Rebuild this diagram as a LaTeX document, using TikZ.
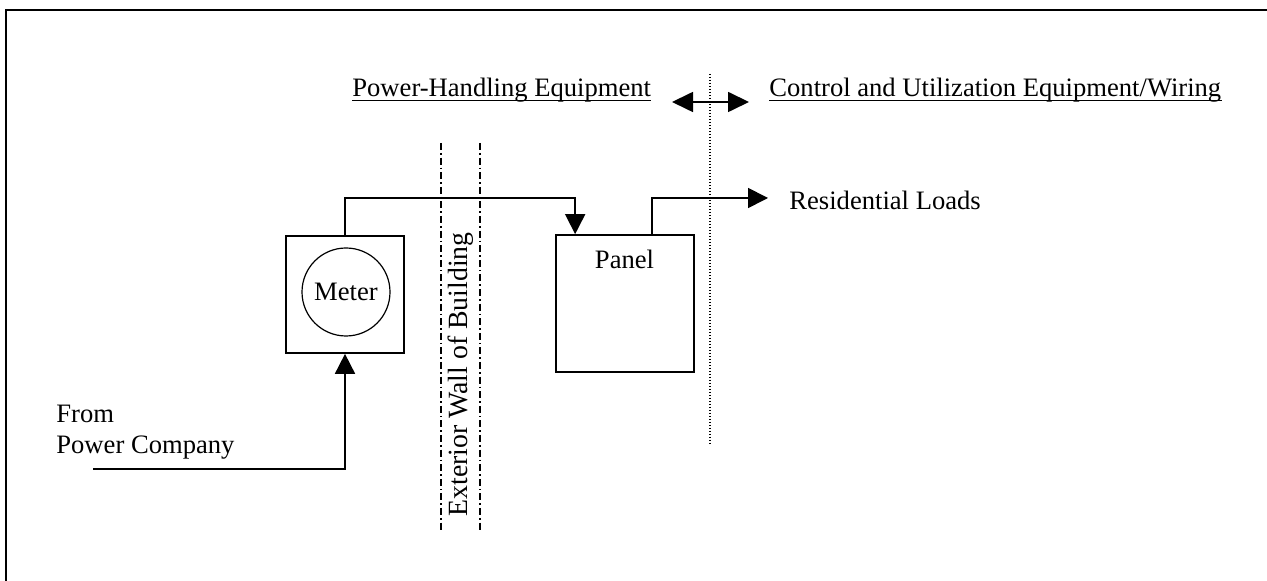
\documentclass[tikz,border=0pt]{standalone}
\usepackage{fontspec}
\setmainfont{Liberation Serif}
\usetikzlibrary{arrows.meta}
\begin{document}
\begin{tikzpicture}[x=0.5pt,y=-0.5pt,
  every node/.style={font=\fontsize{13.3pt}{16pt}\selectfont},
  wire/.style={line width=0.85pt},
  arr/.style={wire,-{Triangle[length=10pt,width=10pt]}},
  dblarr/.style={wire,{Triangle[length=10.5pt,width=10pt]}-{Triangle[length=10.5pt,width=10pt]}},
  box/.style={draw,line width=0.85pt,inner sep=0pt},
  txt/.style={inner sep=0pt},
  uline/.style={line width=0.6pt},
  wall/.style={line width=0.7pt,dash pattern=on 3.5pt off 1.5pt on 0.8pt off 1.5pt},
  divider/.style={line width=0.7pt,dash pattern=on 0.6pt off 0.9pt},
  border/.style={line width=1.3pt}]
\useasboundingbox (0,0) rectangle (1267,581);
\draw[border] (6,582) -- (6,10) -- (1268,10);

% headings
\node[txt,anchor=base west] (phe) at (352,97) {Power-Handling Equipment};
\node[txt,anchor=base west] (cue) at (769,97) {Control and Utilization Equipment/Wiring};
\draw[uline] ([yshift=-1.6pt]phe.base west) -- ([yshift=-1.6pt]phe.base east);
\draw[uline] ([yshift=-1.6pt]cue.base west) -- ([yshift=-1.6pt]cue.base east);

% boundary between the two groups
\coordinate (dl) at (672,102);
\coordinate (dr) at (749,102);
\draw[dblarr] (dl) -- (dr);
\coordinate (divtop) at (710,74);
\coordinate (divbot) at (710,445);
\draw[divider] (divtop) -- (divbot);

% exterior wall
\coordinate (w1t) at (441,143); \coordinate (w1b) at (441,530);
\coordinate (w2t) at (480,143); \coordinate (w2b) at (480,530);
\draw[wall] (w1t) -- (w1b);
\draw[wall] (w2t) -- (w2b);
\node[txt,anchor=base,rotate=90,font=\fontsize{13.9pt}{16pt}\selectfont] (walltxt) at (467,374.5) {Exterior Wall of Building};

% meter
\node[box,minimum width=59pt,minimum height=58.5pt] (meter) at (345,294.5) {};
\node[draw,circle,line width=0.6pt,minimum size=44pt,inner sep=0pt] (meterc) at (346,292) {Meter};

% panel
\node[box,minimum width=69pt,minimum height=68.5pt] (panel) at (625,303.5) {};
\node[txt,anchor=base] (paneltxt) at (624.5,269) {Panel};

% connectors
\coordinate (bus) at (0,198);
\draw[arr] (meter.north) -- (meter.north |- bus) -| ([xshift=10pt]panel.north west);
\coordinate (loadtip) at (768,198);
\draw[arr] ([xshift=48.5pt]panel.north west) |- (loadtip);
\node[txt,anchor=base west] (loads) at (789,210) {Residential Loads};

\node[txt,anchor=base west] (from) at (56,423) {From};
\node[txt,anchor=base west] (pco) at (56,454) {Power Company};
\coordinate (src) at (93,469);
\draw[arr] (src) -| (meter.south);
\end{tikzpicture}
\end{document}
